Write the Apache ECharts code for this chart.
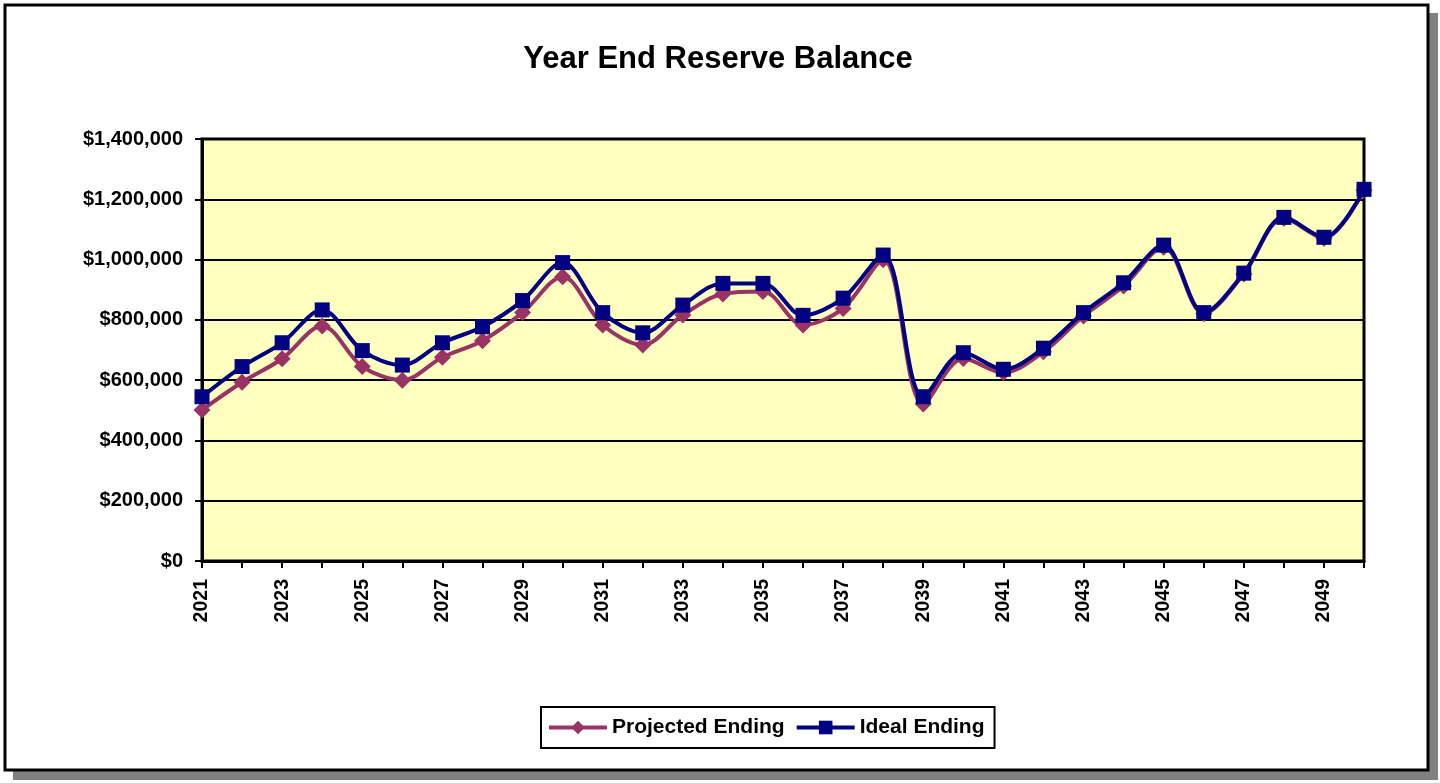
<!DOCTYPE html>
<html>
<head>
<meta charset="utf-8">
<script src="https://cdn.jsdelivr.net/npm/echarts@6/dist/echarts.min.js"></script>
<style>
html,body{margin:0;padding:0;background:#fff;}
#c{width:1440px;height:783px;}
</style>
</head>
<body>
<div id="c"></div>
<script>
const years = ['2021','2022','2023','2024','2025','2026','2027','2028','2029','2030',
  '2031','2032','2033','2034','2035','2036','2037','2038','2039','2040',
  '2041','2042','2043','2044','2045','2046','2047','2048','2049','2050'];
const projectedEnding = [501000,593000,671000,780000,645000,600000,676000,731000,824000,943000,
  783000,717000,816000,886000,894000,783000,838000,999000,521000,672000,
  625000,694000,813000,912000,1041000,820000,952000,1137000,1071000,1231000];
const idealEnding = [545000,645000,724000,833000,698000,650000,724000,777000,864000,990000,
  824000,757000,849000,921000,921000,815000,872000,1015000,545000,691000,
  636000,706000,824000,923000,1048000,824000,955000,1140000,1074000,1233000];
const yTicks = {min:0, max:1400000, interval:200000};

const FONT = '"Liberation Sans", Arial, sans-serif';
const chart = echarts.init(document.getElementById('c'), null, {renderer:'canvas'});
chart.setOption({
  backgroundColor:'#ffffff',
  animation:false,
  graphic:[
    {type:'rect', z:-10, shape:{x:13,y:13,width:1425,height:767}, style:{fill:'#808080'}},
    {type:'rect', z:-9, shape:{x:5,y:5,width:1423,height:765}, style:{fill:'#ffffff',stroke:'#000',lineWidth:3}}
  ],
  title:{
    text:'Year End Reserve Balance',
    left:713, top:39, textAlign:'center',
    textStyle:{fontFamily:FONT,fontWeight:'bold',fontSize:31,color:'#000'}
  },
  legend:{
    left:541, top:707, width:470,
    padding:[10,10,10,6],
    borderColor:'#000', borderWidth:2,
    itemWidth:58, itemHeight:17, itemGap:10,
    lineStyle:{width:4},
    textStyle:{fontFamily:FONT,fontWeight:'bold',fontSize:21,color:'#000'},
    data:['Projected Ending','Ideal Ending']
  },
  grid:{left:202,right:76,top:139,bottom:222,show:true,backgroundColor:'#FFFFC0',borderColor:'#000',borderWidth:3},
  xAxis:{
    type:'category', data:years, boundaryGap:false,
    axisLine:{lineStyle:{color:'#000',width:3}},
    axisTick:{show:true,interval:0,length:7,lineStyle:{color:'#000',width:2}},
    axisLabel:{interval:1,rotate:90,margin:18,fontFamily:FONT,fontWeight:'bold',fontSize:19.5,color:'#000'},
    splitLine:{show:false}
  },
  yAxis:{
    type:'value', min:yTicks.min, max:yTicks.max, interval:yTicks.interval,
    axisLine:{show:true,lineStyle:{color:'#000',width:3}},
    axisTick:{show:true,length:7,lineStyle:{color:'#000',width:2}},
    axisLabel:{margin:19,fontFamily:FONT,fontWeight:'bold',fontSize:20,color:'#000',
      formatter:v=>'$'+v.toLocaleString('en-US')},
    splitLine:{show:true,lineStyle:{color:'#000',width:2}}
  },
  series:[
    {name:'Projected Ending', type:'line', data:projectedEnding, smooth:0.33,
      symbol:'diamond', symbolSize:17,
      lineStyle:{color:'#993366',width:4}, itemStyle:{color:'#993366'}, z:2},
    {name:'Ideal Ending', type:'line', data:idealEnding, smooth:0.33,
      symbol:'rect', symbolSize:15,
      lineStyle:{color:'#000080',width:4}, itemStyle:{color:'#000080'}, z:3}
  ]
});
</script>
</body>
</html>
